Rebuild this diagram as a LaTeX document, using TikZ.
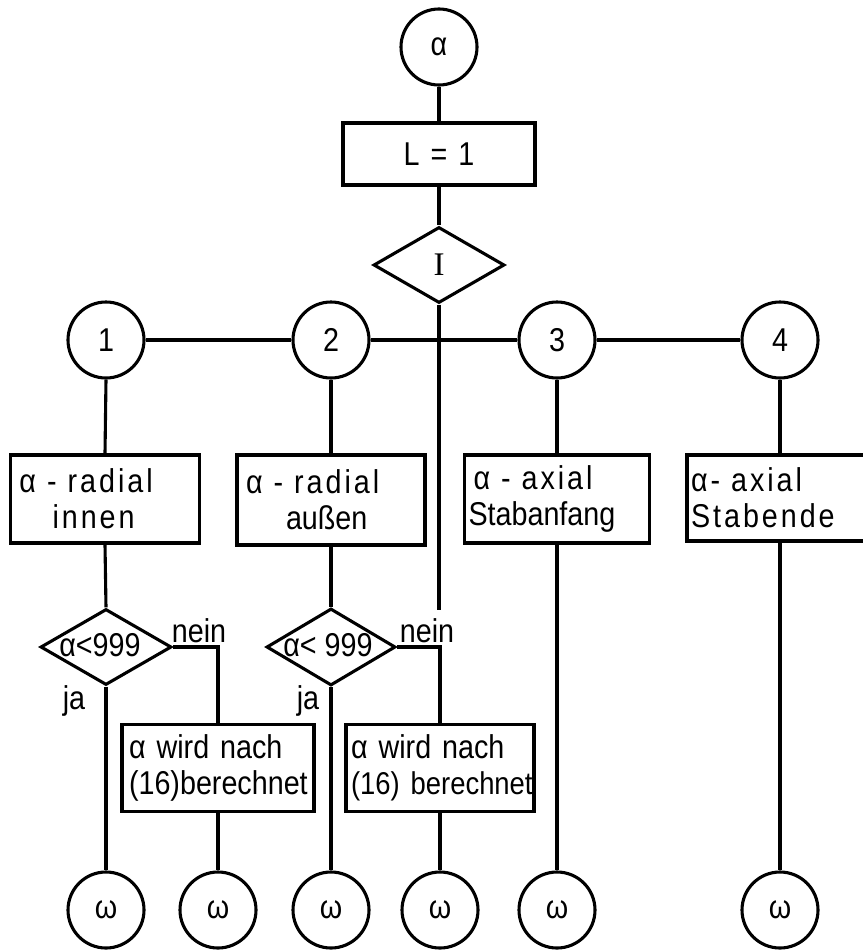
\documentclass[tikz,border=0pt]{standalone}
\usepackage{fontspec}
\setmainfont[FakeStretch=0.87]{Liberation Sans}
\newfontfamily\spacedfont[FakeStretch=0.87,LetterSpace=9]{Liberation Sans}
\newfontfamily\serifI{Liberation Serif}
\usetikzlibrary{shapes.geometric,calc}
\begin{document}
\begin{tikzpicture}[x=1pt,y=-1pt,
  line width=3.1pt,
  every node/.style={font=\fontsize{33}{36}\selectfont},
  circ/.style={draw,circle,minimum size=76pt,inner sep=0pt},
  box/.style={draw,rectangle,align=left,inner xsep=9pt,inner ysep=0pt},
  dia/.style={draw,diamond,inner sep=0pt},
  lbl/.style={inner sep=0pt}
]
\useasboundingbox (0,0) rectangle (862,950);

% top
\node[circ] (a) at (439,47) {α};
\node[box,align=center,text width=174pt,minimum height=62pt] (L) at (439,154) {L = 1};
\node[dia,minimum width=131pt,minimum height=76pt] (I) at (439,265) {};
\node[lbl] (Itxt) at (439,265) {\serifI I};
\coordinate (Iend) at (439,610);

% numbered circles
\node[circ] (c1) at (106,340) {1};
\node[circ] (c2) at (331,340) {2};
\node[circ] (c3) at (557,340) {3};
\node[circ] (c4) at (780,340) {4};

% boxes row
\node[box,text width=171pt,minimum height=88pt] (b1) at (105,499)
  {\mbox{\spacedfont α - radial}\\\hspace*{33pt}\mbox{\spacedfont innen}};
\node[box,text width=170pt,minimum height=90pt] (b2) at (331,500)
  {\mbox{\spacedfont α - radial}\\\hspace*{40pt}\mbox{außen}};
\node[box,text width=167pt,minimum height=88pt] (b3) at (557,499)
  {\mbox{\spacedfont α - axial}\\\hspace*{-5pt}\mbox{Stabanfang}};
\node[box,inner xsep=4pt,text width=178pt,minimum height=86pt] (b4) at (780,498)
  {\mbox{\spacedfont α- axial}\\\mbox{\spacedfont Stabende}};

% decisions
\node[dia,minimum width=131pt,minimum height=76pt] (d1) at (106,647) {};
\node[lbl] (d1t) at (100,645) {α<999};
\node[dia,minimum width=129pt,minimum height=77pt] (d2) at (331,647) {};
\node[lbl] (d2t) at (328,645) {α< 999};

\node[lbl] (n1) at (199,631) {nein};
\node[lbl] (j1) at (74,701) {ja};
\node[lbl] (n2) at (427,631) {nein};
\node[lbl] (j2) at (308,701) {ja};

% lower boxes
\node[box,inner xsep=7pt,text width=178pt,minimum height=87pt] (b5) at (218,768)
  {\mbox{α wird nach}\\\mbox{(16)berechnet}};
\node[box,inner xsep=5pt,text width=178pt,minimum height=87pt] (b6) at (440,768)
  {\mbox{α wird nach}\\\mbox{\fontsize{31.5}{36}\selectfont (16) berechnet}};

% end circles
\node[circ] (w1) at (106,910) {ω};
\node[circ] (w2) at (218,910) {ω};
\node[circ] (w3) at (331,910) {ω};
\node[circ] (w4) at (440,910) {ω};
\node[circ] (w5) at (557,910) {ω};
\node[circ] (w6) at (780,910) {ω};

% connectors
\draw (a.south) -- (L.north);
\draw (L.south) -- (I.north);
\draw (I.south) -- (Iend);
\draw (c1.east) -- (c2.west);
\draw (c2.east) -- (c3.west);
\draw (c3.east) -- (c4.west);

\draw (c1.south) -- (b1.north);
\draw (b1.south) -- (d1.north);
\draw (d1.south) -- (w1.north);
\draw (d1.east) -| (b5.north);
\draw (b5.south) -- (w2.north);

\draw (c2.south) -- (b2.north);
\draw (b2.south) -- (d2.north);
\draw (d2.south) -- (w3.north);
\draw (d2.east) -| (b6.north);
\draw (b6.south) -- (w4.north);

\draw (c3.south) -- (b3.north);
\draw (b3.south) -- (w5.north);
\draw (c4.south) -- (b4.north);
\draw (b4.south) -- (w6.north);
\end{tikzpicture}
\end{document}
